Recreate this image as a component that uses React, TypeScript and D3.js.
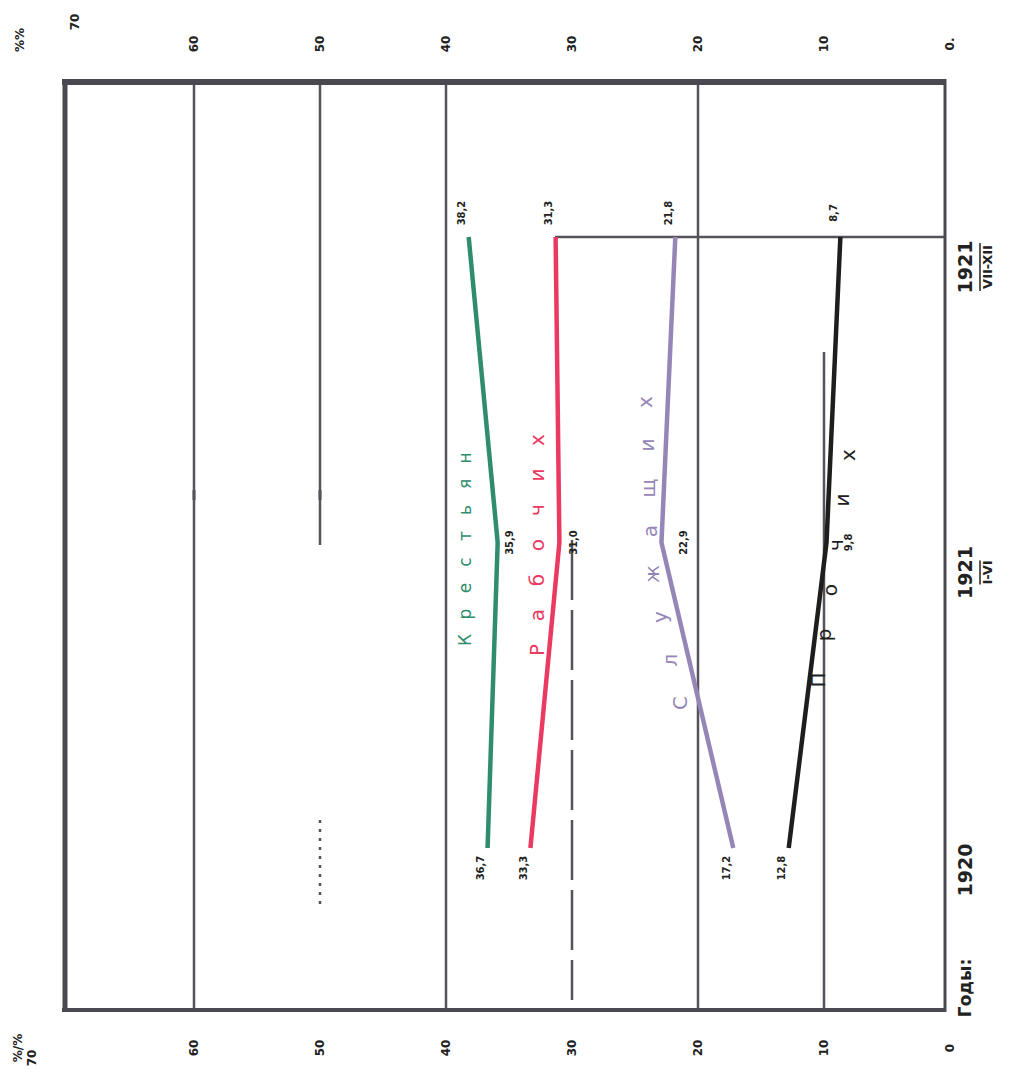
import React from "react";
import * as d3 from "d3";

const periods = ["1920", "1921 I-VI", "1921 VII-XII"];
const yearTop = ["1920", "1921", "1921"];
const yearSub = ["", "I-VI", "VII-XII"];
const krestyan = [36.7, 35.9, 38.2];
const rabochikh = [33.3, 31.0, 31.3];
const sluzhashchikh = [17.2, 22.9, 21.8];
const prochikh = [12.8, 9.8, 8.7];
const topTickLabels = ["0.", "10", "20", "30", "40", "50", "60"];
const bottomTickLabels = ["0", "10", "20", "30", "40", "50", "60"];

// label letter guide paths (polyline through which letters are spread)
const series = [
  { name: "Крестьян", values: krestyan, color: "#2f8c6c", guide: [[465, 640], [465, 458]], fs: 17, mid: 12 },
  { name: "Рабочих", values: rabochikh, color: "#ea3a62", guide: [[537, 650], [537, 440]], fs: 20, mid: 14 },
  { name: "Служащих", values: sluzhashchikh, color: "#9686b8", guide: [[680, 703], [652, 583], [645, 402]], fs: 20, mid: 22 },
  { name: "Прочих", values: prochikh, color: "#1e1e1e", guide: [[818, 680], [848, 455]], fs: 20, mid: 22 },
];

const W = 1019;
const H = 1090;
const left = 65, right = 945, top = 82, bottom = 1010;

const x = d3.scaleLinear().domain([0, 70]).range([950, 68]);
const y = d3.scalePoint<string>().domain(periods).range([848, 237]);

const fmt = (v: number) => v.toFixed(1).replace(".", ",");

function RText(props: { x: number; y: number; children: React.ReactNode; size?: number; fill?: string; weight?: any; anchor?: string }) {
  const { x: tx, y: ty, children, size = 12, fill = "#222", weight = "bold", anchor = "middle" } = props;
  return (
    <text
      transform={`translate(${tx},${ty}) rotate(-90)`}
      textAnchor={anchor as any}
      dominantBaseline="central"
      fontSize={size}
      fontWeight={weight}
      fill={fill}
      fontFamily="DejaVu Sans, sans-serif"
    >
      {children}
    </text>
  );
}

function alongGuide(guide: number[][], t: number) {
  // param by vertical distance
  const totalDy = Math.abs(guide[guide.length - 1][1] - guide[0][1]);
  const targetY = guide[0][1] - totalDy * t;
  for (let i = 0; i < guide.length - 1; i++) {
    const a = guide[i], b = guide[i + 1];
    if (targetY <= a[1] && targetY >= b[1]) {
      const u = (a[1] - targetY) / (a[1] - b[1] || 1);
      return [a[0] + (b[0] - a[0]) * u, targetY];
    }
  }
  return guide[guide.length - 1];
}

export default function App() {
  const line = d3
    .line<number>()
    .x((d) => x(d))
    .y((_, i) => y(periods[i]) as number);

  const labelPos = (mid: number, pi: number, v: number) => {
    const px = x(v);
    const py = y(periods[pi]) as number;
    if (pi === 0) return { lx: px - 7, ly: py + 20 };
    if (pi === 1) return { lx: px + mid, ly: py };
    return { lx: px - 7, ly: py - 24 };
  };

  return (
    <svg width={W} height={H} style={{ display: "block", position: "absolute", left: 0, top: 0, background: "#fff" }}>
      <rect x={0} y={0} width={W} height={H} fill="#fff" />
      {/* gridlines */}
      <g stroke="#55525a" strokeWidth={2.5}>
        <line x1={x(60)} x2={x(60)} y1={top} y2={bottom} />
        <line x1={x(50)} x2={x(50)} y1={top} y2={545} />
        <line x1={x(50)} x2={x(50)} y1={820} y2={910} strokeDasharray="3 6" />
        <line x1={x(40)} x2={x(40)} y1={top} y2={bottom} />
        <line x1={x(30)} x2={x(30)} y1={540} y2={1000} strokeDasharray="60 10" />
        <line x1={x(20)} x2={x(20)} y1={top} y2={bottom} />
        <line x1={x(10)} x2={x(10)} y1={352} y2={bottom} />
        <line x1={555} x2={right} y1={y(periods[2]) as number} y2={y(periods[2]) as number} />
        <line x1={x(50)} x2={x(50)} y1={490} y2={500} strokeWidth={3} />
        <line x1={x(60)} x2={x(60)} y1={490} y2={500} strokeWidth={3} />
      </g>
      {/* frame */}
      <g stroke="#4a4850">
        <line x1={left - 3} x2={right + 1} y1={top} y2={top} strokeWidth={6} />
        <line x1={left} x2={left} y1={top - 3} y2={bottom + 2} strokeWidth={5} />
        <line x1={left - 3} x2={right + 1} y1={bottom} y2={bottom} strokeWidth={4} />
        <line x1={right} x2={right} y1={top - 3} y2={bottom + 2} strokeWidth={3} />
      </g>
      {/* series */}
      {series.map((s) => {
        const letters = Array.from(s.name);
        const n = letters.length;
        return (
          <g key={s.name}>
            <path d={line(s.values) || ""} fill="none" stroke={s.color} strokeWidth={4.5} strokeLinecap="butt" />
            {s.values.map((v, pi) => {
              const p = labelPos(s.mid, pi, v);
              return (
                <RText key={pi} x={p.lx} y={p.ly} size={10}>
                  {fmt(v)}
                </RText>
              );
            })}
            {letters.map((ch, k) => {
              const t = n === 1 ? 0 : k / (n - 1);
              const [lx, ly] = alongGuide(s.guide, t);
              return (
                <RText key={k} x={lx} y={ly} size={s.fs} fill={s.color} weight="normal">
                  {ch}
                </RText>
              );
            })}
          </g>
        );
      })}
      {/* year labels */}
      {periods.map((p, i) => (
        <g key={p}>
          <RText x={965} y={(y(p) as number) + (i === 0 ? 22 : 30)} size={19}>
            {yearTop[i]}
          </RText>
          {yearSub[i] && (
            <RText x={987} y={(y(p) as number) + 30} size={13}>
              {yearSub[i]}
            </RText>
          )}
        </g>
      ))}
      {periods.slice(1).map((p, i) => {
        const cy = (y(p) as number) + 30;
        const half = i === 0 ? 12 : 24;
        return <line key={p} x1={980} x2={980} y1={cy - half} y2={cy + half} stroke="#222" strokeWidth={1.5} />;
      })}
      <RText x={965} y={988} size={17}>
        Годы:
      </RText>
      {/* top tick labels */}
      {topTickLabels.map((t, i) => (
        <RText key={t} x={x(i * 10)} y={44} size={12}>
          {t}
        </RText>
      ))}
      <RText x={75} y={22} size={12}>70</RText>
      <RText x={20} y={40} size={12}>%%</RText>
      {/* bottom tick labels */}
      {bottomTickLabels.map((t, i) => (
        <RText key={t} x={x(i * 10)} y={1048} size={12}>
          {t}
        </RText>
      ))}
      <RText x={18} y={1048} size={12}>%/%</RText>
      <RText x={32} y={1058} size={12}>70</RText>
    </svg>
  );
}
